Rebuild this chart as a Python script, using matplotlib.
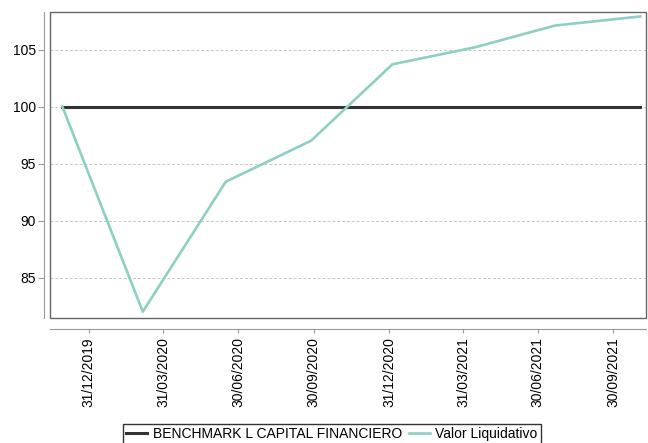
import matplotlib

matplotlib.use("Agg")
import matplotlib.dates as mdates
import matplotlib.pyplot as plt
from matplotlib.patches import Rectangle
import numpy as np

# values
dates = np.array(
    [
        "2019-11-29",
        "2020-03-06",
        "2020-06-15",
        "2020-09-27",
        "2021-01-04",
        "2021-04-15",
        "2021-07-21",
        "2021-11-02",
    ],
    dtype="datetime64[D]",
)
valor_liquidativo = [100.0, 82.0, 93.4, 97.0, 103.7, 105.2, 107.1, 107.9]
benchmark = [100.0, 100.0, 100.0, 100.0, 100.0, 100.0, 100.0, 100.0]

tick_dates = np.array(
    [
        "2019-12-31",
        "2020-03-31",
        "2020-06-30",
        "2020-09-30",
        "2020-12-31",
        "2021-03-31",
        "2021-06-30",
        "2021-09-30",
    ],
    dtype="datetime64[D]",
)
y_ticks = [85, 90, 95, 100, 105]

plt.rcParams["font.family"] = ["Liberation Sans", "DejaVu Sans"]

fig = plt.figure(figsize=(6.48, 4.43), dpi=100)
ax = fig.add_axes([0.0772, 0.2822, 0.9198, 0.6907])

ax.plot(dates, benchmark, color="#333333", linewidth=2.2, label="BENCHMARK L CAPITAL FINANCIERO", zorder=3)
ax.plot(dates, valor_liquidativo, color="#8ecfc4", linewidth=1.9, label="Valor Liquidativo", zorder=4)

ax.set_xlim(np.datetime64("2019-11-14"), np.datetime64("2021-11-09"))
ax.set_ylim(81.45, 108.29)
ax.set_yticks(y_ticks)
ax.set_xticks(tick_dates)
ax.xaxis.set_major_formatter(mdates.DateFormatter("%d/%m/%Y"))
ax.tick_params(axis="x", labelrotation=90, labelsize=10, length=3, color="#999999", pad=3)
ax.tick_params(axis="y", labelsize=10, length=4, color="#999999", pad=2)
ax.grid(axis="y", color="#c8c8c8", linestyle=(0, (3, 2)), linewidth=0.7)

for side in ("top", "right"):
    ax.spines[side].set_visible(False)
ax.spines["left"].set_position(("outward", 4.3))
ax.spines["bottom"].set_position(("outward", 8))
ax.spines["left"].set_color("#999999")
ax.spines["bottom"].set_color("#999999")
ax.add_patch(
    Rectangle((0, 0), 1, 1, transform=ax.transAxes, fill=False, edgecolor="#666666", linewidth=1.0, clip_on=False, zorder=5)
)

leg = ax.legend(
    loc="upper center",
    bbox_to_anchor=(0.512, 0.059),
    bbox_transform=fig.transFigure,
    ncol=2,
    frameon=True,
    fancybox=False,
    fontsize=10,
    handlelength=1.5,
    handletextpad=0.4,
    columnspacing=0.5,
    borderpad=0.25,
)
leg.get_frame().set_edgecolor("black")
leg.get_frame().set_linewidth(1.0)

fig.savefig("out.png", dpi=100)
